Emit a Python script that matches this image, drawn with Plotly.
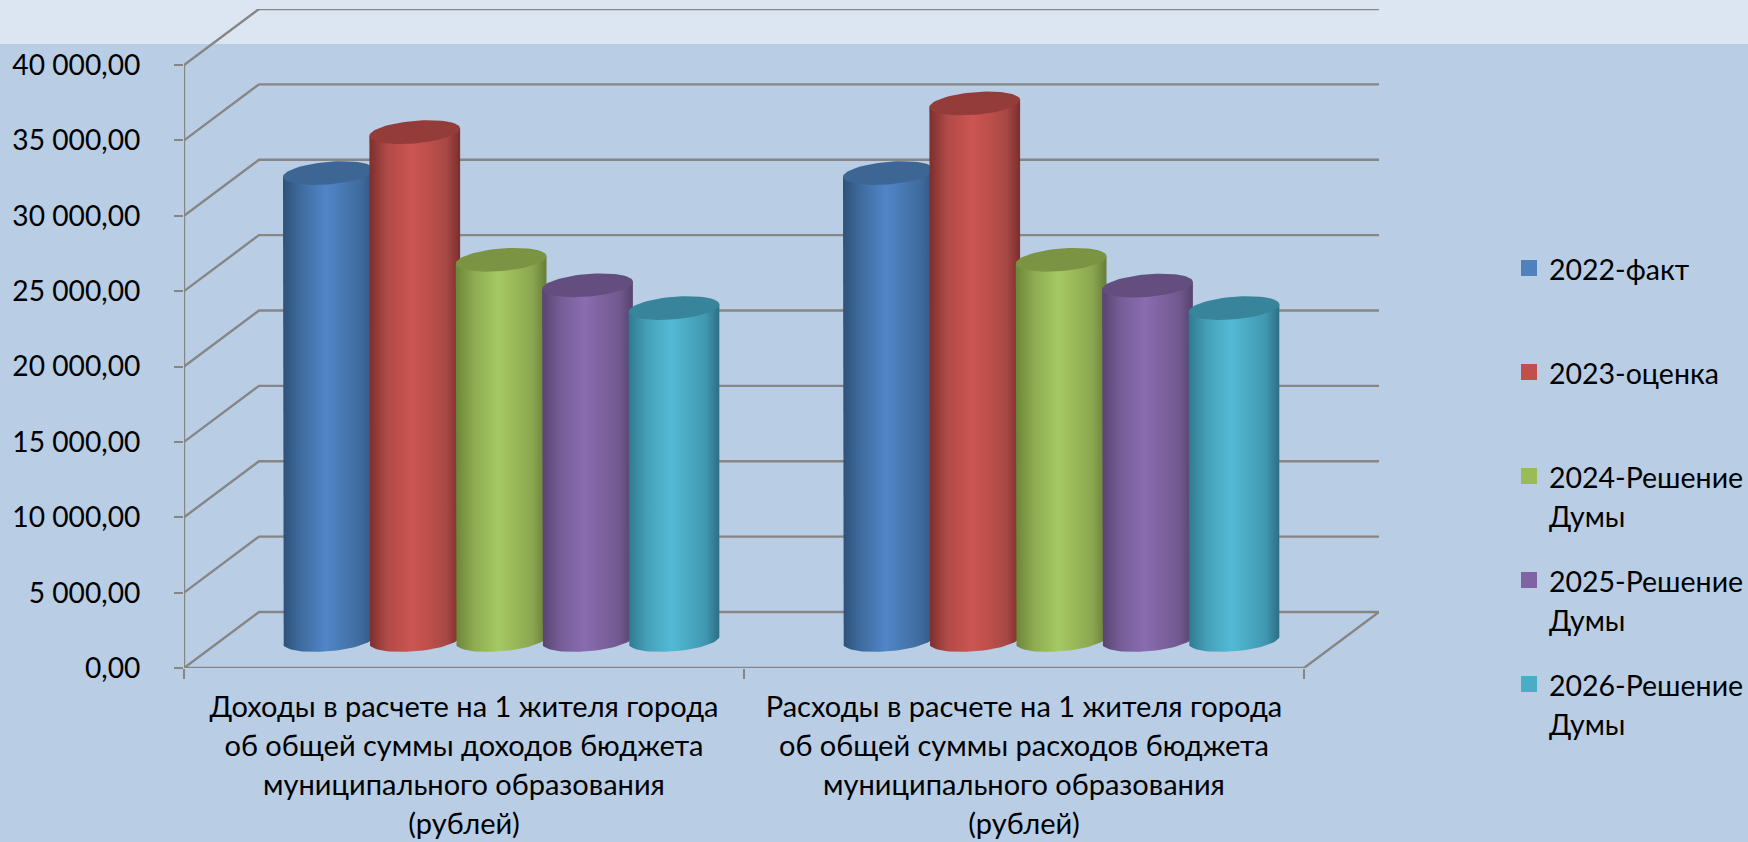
import numpy as np
import plotly.graph_objects as go

# ---------- data ----------
series_names = ["2022-факт", "2023-оценка", "2024-Решение Думы", "2025-Решение Думы", "2026-Решение Думы"]
legend_labels = [["2022-факт", "\u00a0"], ["2023-оценка", "\u00a0"], ["2024-Решение", "Думы"],
                 ["2025-Решение", "Думы"], ["2026-Решение", "Думы"]]
v2022 = [30970, 30970]
v2023 = [33690, 35590]
v2024 = [25220, 25220]
v2025 = [23530, 23510]
v2026 = [22020, 22020]
all_values = [v2022, v2023, v2024, v2025, v2026]

y_ticks = [0, 5000, 10000, 15000, 20000, 25000, 30000, 35000, 40000]
y_ticktext = ["0,00", "5 000,00", "10 000,00", "15 000,00", "20 000,00", "25 000,00", "30 000,00", "35 000,00", "40 000,00"]
cat_lines = [
    ["Доходы в расчете на 1 жителя города", "об общей суммы доходов бюджета", "муниципального образования", "(рублей)"],
    ["Расходы в расчете на 1 жителя города", "об общей суммы расходов бюджета", "муниципального образования", "(рублей)"],
]

# ---------- styles ----------
BG = "#b9cde5"
BAND = "#dce6f2"
GRID = "#868686"
FONT = "Lato"
TXT_Y, TXT_X, TXT_LEG = 28.2, 29, 28.5
PITCH = 30  # plotly line pitch = 1.3 x this
swatch = ["#4f81bd", "#c0504d", "#9bbb59", "#8064a2", "#4bacc6"]
tops = ["#3e6695", "#943c3a", "#7a9444", "#644e80", "#38849b"]
ramps = [
    ["#2f5178", "#3f6c9f", "#5085c8", "#4a7cb8", "#3f6c9f", "#30567f"],
    ["#7d2f2d", "#b04a47", "#cd5552", "#c0504d", "#a84845", "#7a2e2c"],
    ["#6c8539", "#8eab50", "#a5c963", "#9bbb59", "#8aa650", "#667d36"],
    ["#574470", "#765d97", "#8a6cb0", "#8064a2", "#715990", "#54426d"],
    ["#2f7a90", "#45a0b8", "#52bad6", "#4bacc6", "#4098b0", "#2b6f84"],
]
stops = [0.0, 0.2, 0.47, 0.62, 0.85, 1.0]

# ---------- geometry: pixels per axis unit ----------
FIG_W, FIG_H = 1748, 842
L, R, T, B = 184, 369, 9, 174
plot_w, plot_h = FIG_W - L - R, FIG_H - T - B
X_PX = 560.0
Y_PX = 603 / 40000.0
wall_dx, wall_dy = 75 / X_PX, 56 / Y_PX        # depth of the box
x_max, y_max = plot_w / X_PX, plot_h / Y_PX
mid_dy = wall_dy / 2
bar_first, bar_step, bar_w = 99.0 / X_PX, 86.4 / X_PX, 90.7 / X_PX
ell_ry, ell_shear = 11.3 / Y_PX, 3.7 / Y_PX

fig = go.Figure()

# front frame, back wall, side wall and gridlines
gx, gy = [0, 0, None, 0, 2, None], [40000, 0, None, 0, 0, None]
for v in y_ticks:
    gx += [0, wall_dx, 2 + wall_dx, None]
    gy += [v, v + wall_dy, v + wall_dy, None]
gx += [2, 2 + wall_dx]
gy += [0, wall_dy]
fig.add_trace(go.Scatter(x=gx, y=gy, mode="lines", line=dict(color=GRID, width=2.4), cliponaxis=False,
                         hoverinfo="skip", showlegend=False))

t_top = np.linspace(0, 2 * np.pi, 73)
t_bot = np.linspace(np.pi, 2 * np.pi, 37)
for c in range(2):
    for s, vals in enumerate(all_values):
        cx = c + bar_first + s * bar_step + bar_w / 2
        rx = bar_w / 2
        top = vals[c] + mid_dy
        base = mid_dy
        # body: down the left side, round the front of the base, up the right side, back along the top
        xb = cx + rx * np.cos(t_bot)
        yb = base + ell_shear * np.cos(t_bot) + ell_ry * np.sin(t_bot)
        xs = np.concatenate([[cx - rx], xb, [cx + rx]])
        ys = np.concatenate([[top - ell_shear], yb, [top + ell_shear]])
        scale = [[p, col] for p, col in zip(stops, ramps[s])]
        fig.add_trace(go.Scatter(x=xs, y=ys, mode="lines", fill="toself", line=dict(width=0),
                                 fillgradient=dict(type="horizontal", colorscale=scale),
                                 hoverinfo="skip", showlegend=False, cliponaxis=False))
        # top face
        xt = cx + rx * np.cos(t_top)
        yt = top + ell_shear * np.cos(t_top) + ell_ry * np.sin(t_top)
        fig.add_trace(go.Scatter(x=xt, y=yt, mode="lines", fill="toself", fillcolor=tops[s],
                                 line=dict(width=0), name=series_names[s], hovertemplate="%{fullData.name}<extra></extra>",
                                 showlegend=False, cliponaxis=False))

# legend entries
for s, lines in enumerate(legend_labels):
    label = "<br>".join(f"<span style='font-size:{TXT_LEG}px'>{ln}</span>" for ln in lines)
    fig.add_trace(go.Scatter(x=[None], y=[None], mode="markers", name=label, legendgroup=f"g{s}",
                             marker=dict(symbol="square", size=17, color=swatch[s])))

cat_text = ["<br>".join(f"<span style='font-size:{TXT_X}px'>{ln}</span>" for ln in lines) for lines in cat_lines]

fig.update_layout(
    width=FIG_W, height=FIG_H,
    margin=dict(l=L, r=R, t=T, b=B, pad=0, autoexpand=False),
    paper_bgcolor=BG, plot_bgcolor="rgba(0,0,0,0)",
    font=dict(family=FONT, size=TXT_Y, color="#000000"),
    xaxis=dict(range=[0, x_max], fixedrange=True, showgrid=False, zeroline=False, showline=False,
               tickmode="array", tickvals=[0.5, 1.5], ticktext=cat_text, ticklabelstandoff=18,
               ticks="", tickangle=0, tickfont=dict(family=FONT, size=PITCH, color="#000000"),
               minor=dict(tickmode="array", tickvals=[0, 1, 2], ticks="outside", ticklen=10, tickwidth=1.5,
                          tickcolor=GRID, showgrid=False)),
    yaxis=dict(range=[0, y_max], fixedrange=True, showgrid=False, zeroline=False, showline=False,
               tickmode="array", tickvals=y_ticks, ticktext=y_ticktext,
               ticks="outside", ticklen=9, tickwidth=1.5, tickcolor=GRID, ticklabelstandoff=28,
               tickfont=dict(family=FONT, size=TXT_Y, color="#000000")),
    legend=dict(x=(1509 - L) / plot_w, xanchor="left", y=1 - (242 - T) / plot_h, yanchor="top",
                bgcolor="rgba(0,0,0,0)", borderwidth=0, traceorder="grouped", tracegroupgap=23,
                valign="top", itemsizing="trace", font=dict(family=FONT, size=PITCH, color="#000000")),
    shapes=[dict(type="rect", xref="paper", yref="paper", x0=-L / plot_w, x1=1 + R / plot_w,
                 y0=1 + (T - 44) / plot_h, y1=1 + T / plot_h, fillcolor=BAND, line=dict(width=0), layer="below")],
    showlegend=True,
)

fig.write_html("out.html", config={"displayModeBar": False},
               post_script="document.body.style.margin='0';document.body.style.overflow='hidden';")
